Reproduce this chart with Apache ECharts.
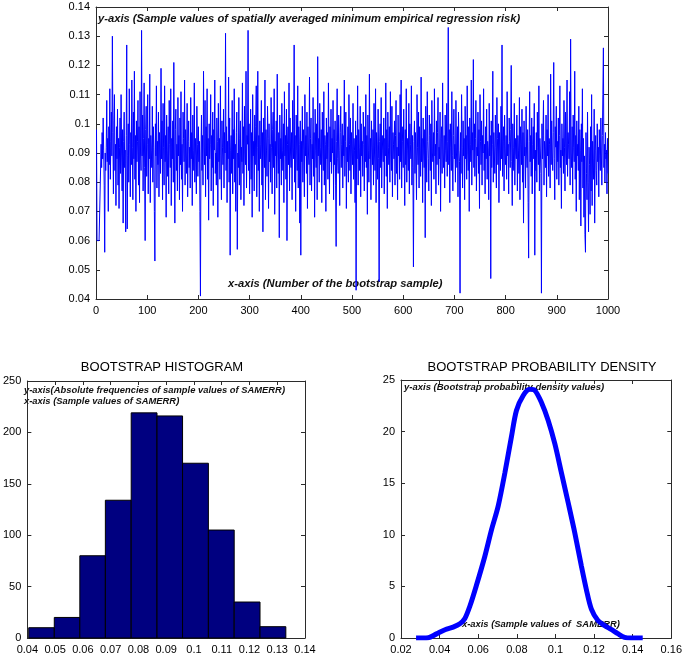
<!DOCTYPE html>
<html>
<head>
<meta charset="utf-8">
<script src="https://cdn.jsdelivr.net/npm/echarts@6/dist/echarts.min.js"></script>
<style>
  html, body { margin: 0; padding: 0; background: #fff; }
  #chart { width: 685px; height: 659px; }
</style>
</head>
<body>
<div id="chart"></div>
<script>
// sample values of SAMERR for each bootstrap sample, in thousandths (0.092 -> 92)
const riskMilli = [
  98,60,60,60,60,60,60,60,60,93,85,97,88,102,91,79,56,90,84,92,
  108,87,95,70,99,86,112,81,94,104,89,130,97,76,101,110,84,93,72,99,
  88,105,79,95,71,92,102,83,110,90,77,98,66,94,104,85,91,63,96,127,
  64,89,100,80,112,93,75,97,86,115,92,74,104,88,118,81,96,70,101,87,
  94,108,79,99,73,111,90,84,132,89,103,77,95,114,85,60,98,106,82,93,
  110,76,95,88,117,73,96,91,85,106,80,99,92,70,53,100,89,113,78,94,
  86,104,75,97,90,83,119,88,101,74,107,92,79,113,87,96,68,103,91,82,
  99,76,108,93,85,112,72,95,88,101,80,121,90,66,98,105,84,93,77,109,
  89,96,74,102,86,111,81,93,70,104,95,87,115,79,98,90,83,107,75,94,
  101,85,92,78,109,88,97,72,103,91,84,114,80,95,89,76,106,93,82,99,
  87,94,70,41,90,103,84,96,79,118,92,86,108,75,99,89,112,81,95,67,
  100,88,93,110,77,96,85,104,72,98,91,115,83,90,79,102,94,68,107,87,
  95,81,113,89,74,101,92,86,105,78,97,90,131,84,99,73,94,88,116,80,
  102,55,91,96,83,108,76,98,88,112,80,93,70,97,104,57,90,85,109,79,
  95,101,74,92,87,114,83,99,72,106,90,86,118,78,96,93,132,84,100,76,
  91,105,81,97,68,110,89,94,77,103,86,99,113,75,92,118,84,96,70,101,
  88,93,108,79,97,63,102,90,85,115,74,98,91,82,106,95,71,100,87,93,
  80,109,92,76,98,104,85,112,69,94,89,101,78,117,90,83,97,61,103,88,
  95,79,107,91,84,100,73,111,89,96,81,105,60,93,99,86,114,77,102,90,
  85,97,74,108,92,88,127,80,96,70,103,91,84,113,78,99,93,66,101,55,
  94,87,106,80,98,91,75,110,89,96,83,104,71,99,90,86,116,79,95,102,
  77,93,88,109,82,97,68,105,91,85,100,74,123,89,95,80,107,92,86,98,
  73,104,90,84,111,79,96,93,70,102,88,97,81,114,92,76,99,87,105,83,
  95,90,108,74,98,86,101,79,58,94,112,88,83,103,91,72,97,106,85,93,
  100,78,96,89,115,82,94,104,71,92,87,99,80,110,93,84,102,76,97,90,
  86,107,81,95,91,73,101,43,96,88,113,79,98,92,84,106,75,100,89,94,
  82,104,93,77,99,87,110,85,96,69,103,91,80,117,88,95,74,101,92,86,
  98,79,107,90,84,112,73,97,93,81,105,88,46,94,100,85,109,78,96,91,
  87,102,76,95,89,114,82,98,71,104,92,86,99,80,111,90,84,106,75,97,
  93,88,101,79,96,108,83,92,74,103,89,97,81,110,87,115,78,99,94,85,
  105,90,72,98,86,112,80,95,91,84,107,76,100,93,88,113,79,96,85,51,
  94,101,83,97,89,74,110,92,86,104,78,99,91,82,116,87,95,73,102,90,
  85,98,61,106,91,80,111,94,88,77,103,96,84,100,72,108,90,87,97,81,
  112,89,93,76,101,86,97,109,79,92,88,104,70,95,99,83,114,90,85,96,
  78,103,91,87,107,82,94,133,86,98,73,100,92,84,111,89,77,96,105,88,
  93,80,108,90,85,99,75,104,91,87,42,97,83,110,92,78,101,89,95,74,
  106,88,96,81,113,90,84,99,70,102,93,87,115,79,97,91,122,85,100,82,
  95,108,77,92,89,104,83,98,71,110,94,86,101,79,96,90,112,84,93,76,
  99,88,105,81,94,91,74,107,89,96,47,101,85,93,118,80,97,90,83,103,
  92,78,109,95,86,100,73,97,91,84,106,88,127,82,94,99,77,103,90,86,
  96,81,111,89,93,76,102,94,85,98,120,87,72,100,92,84,107,79,95,90,
  88,103,77,96,91,83,109,74,99,93,86,105,80,97,66,101,89,92,78,106,
  90,85,98,73,54,94,111,87,96,82,102,76,93,99,88,107,55,91,84,97,
  80,104,92,86,113,77,95,90,83,42,100,88,96,108,79,94,91,85,103,75,
  98,89,110,82,95,93,78,117,86,101,90,84,97,121,88,74,99,92,106,81,
  94,87,102,79,96,113,85,91,71,100,89,95,83,108,92,77,104,90,86,115,
  82,97,93,88,111,79,129,90,85,99,76,103,92,87,118,81,96,70,101,89,
  93,84,106,74,98,91,65,100,87,112,78,95,68,89,62,56,97,83,74,104,
  80,63,92,86,69,99,77,110,72,94,88,81,105,66,91,96,84,79,100,87,
  92,75,98,89,84,102,90,79,96,110,126,85,93,80,97,88,91,76,95,83
];

// histogram bins
const binEdges = [0.0405, 0.0497, 0.0589, 0.0681, 0.0774, 0.0867, 0.0959, 0.1052, 0.1145, 0.1238, 0.1331];
const binCounts = [10, 20, 80, 134, 219, 216, 170, 105, 35, 11];

// density curve
const densX = [0.0278, 0.0341, 0.0384, 0.0428, 0.047, 0.0505, 0.053, 0.0557, 0.059, 0.0634, 0.0669, 0.0703,
  0.0738, 0.0772, 0.0798, 0.0833, 0.0867, 0.0893, 0.0928, 0.0962, 0.0997, 0.1031, 0.1066, 0.11, 0.1134,
  0.116, 0.1186, 0.122, 0.1255, 0.1289, 0.1323, 0.1358, 0.1392, 0.1452];
const densY = [0, 0.03, 0.4, 0.8, 1.06, 1.38, 1.86, 3.1, 5.06, 7.9, 10.5, 12.76,
  16.0, 19.5, 22.05, 23.5, 24.1, 24.0, 22.8, 21.1, 18.8, 16.0, 13.1, 10.2, 7.0,
  4.7, 2.8, 1.7, 1.2, 0.83, 0.42, 0.06, 0, 0];

const FONT = '"Liberation Sans", Arial, Helvetica, sans-serif';
const AXIS_COLOR = '#2b2b2b';
const fmt = v => String(+v.toFixed(3));

const chart = echarts.init(document.getElementById('chart'));

function boxAxes(gridIndex, min, max, interval) {
  // returns [main, mirror] axis config for one grid side pair
  const base = {
    gridIndex, type: 'value', min, max, interval,
    splitLine: { show: false },
    axisLine: { show: true, onZero: false, lineStyle: { color: AXIS_COLOR, width: 1 } },
    axisTick: { show: true, inside: true, length: 4, lineStyle: { color: AXIS_COLOR } },
  };
  return [
    Object.assign({}, base, {
      axisLabel: { show: true, color: '#000', fontSize: 11, fontFamily: FONT, formatter: fmt, margin: 6 },
    }),
    Object.assign({}, base, { axisLabel: { show: false } }),
  ];
}

const [x0, x0m] = boxAxes(0, 0, 1000, 100);
const [y0, y0m] = boxAxes(0, 0.04, 0.14, 0.01);
const [x1, x1m] = boxAxes(1, 0.04, 0.14, 0.01);
const [y1, y1m] = boxAxes(1, 0, 250, 50);
const [x2, x2m] = boxAxes(2, 0.02, 0.16, 0.02);
const [y2, y2m] = boxAxes(2, 0, 25, 5);
x0.axisLabel.margin = 6;

const note = (left, top, text, size) => ({
  type: 'text', left, top,
  style: { text, fill: '#111', font: `italic bold ${size}px ${FONT}` },
});

chart.setOption({
  animation: false,
  backgroundColor: '#fff',
  grid: [
    { left: 96, top: 7, width: 512, height: 292 },
    { left: 23, top: 381, width: 282, height: 257 },
    { left: 401, top: 380, width: 271, height: 258 },
  ],
  title: [
    { text: 'BOOTSTRAP HISTOGRAM', left: 157, top: 356, textAlign: 'center',
      textStyle: { fontFamily: FONT, fontWeight: 'normal', fontSize: 13, color: '#000' } },
    { text: 'BOOTSTRAP PROBABILITY DENSITY', left: 537, top: 356, textAlign: 'center',
      textStyle: { fontFamily: FONT, fontWeight: 'normal', fontSize: 13, color: '#000' } },
  ],
  xAxis: [
    Object.assign(x0, { position: 'bottom' }), Object.assign(x0m, { position: 'top' }),
    Object.assign(x1, { position: 'bottom' }), Object.assign(x1m, { position: 'top' }),
    Object.assign(x2, { position: 'bottom' }), Object.assign(x2m, { position: 'top' }),
  ],
  yAxis: [
    Object.assign(y0, { position: 'left' }), Object.assign(y0m, { position: 'right' }),
    Object.assign(y1, { position: 'left' }), Object.assign(y1m, { position: 'right' }),
    Object.assign(y2, { position: 'left' }), Object.assign(y2m, { position: 'right' }),
  ],
  graphic: [
    note(98, 13, 'y-axis (Sample values of spatially averaged minimum empirical regression risk)', 11.2),
    note(228, 278, 'x-axis (Number of the bootstrap sample)', 11.2),
    note(24, 386, 'y-axis(Absolute frequencies of sample values of SAMERR)', 9.4),
    note(24, 397, 'x-axis (Sample values of SAMERR)', 9.4),
    note(404, 382, 'y-axis (Bootstrap probability density values)', 9.5),
    note(462, 620, 'x-axis (Sample values of  SAMERR)', 9.4),
  ],
  series: [
    {
      type: 'line',
      xAxisIndex: 0, yAxisIndex: 0,
      data: riskMilli.map((v, i) => [i + 1, v / 1000]),
      showSymbol: false,
      lineStyle: { color: '#0000ff', width: 1 },
      z: 2,
    },
    {
      type: 'custom',
      xAxisIndex: 2, yAxisIndex: 2,
      data: binCounts.map((c, i) => [binEdges[i], binEdges[i + 1], c]),
      renderItem: (params, api) => {
        const p0 = api.coord([api.value(0), 0]);
        const p1 = api.coord([api.value(1), api.value(2)]);
        return {
          type: 'rect',
          shape: { x: p0[0], y: p1[1], width: p1[0] - p0[0], height: p0[1] - p1[1] },
          style: { fill: '#000080', stroke: '#000', lineWidth: 1 },
        };
      },
      z: 2,
    },
    {
      type: 'line',
      xAxisIndex: 4, yAxisIndex: 4,
      data: densX.map((x, i) => [x, densY[i]]),
      smooth: 0.3,
      showSymbol: false,
      lineStyle: { color: '#0000ff', width: 5 },
      z: 2,
    },
  ],
});
</script>
</body>
</html>
